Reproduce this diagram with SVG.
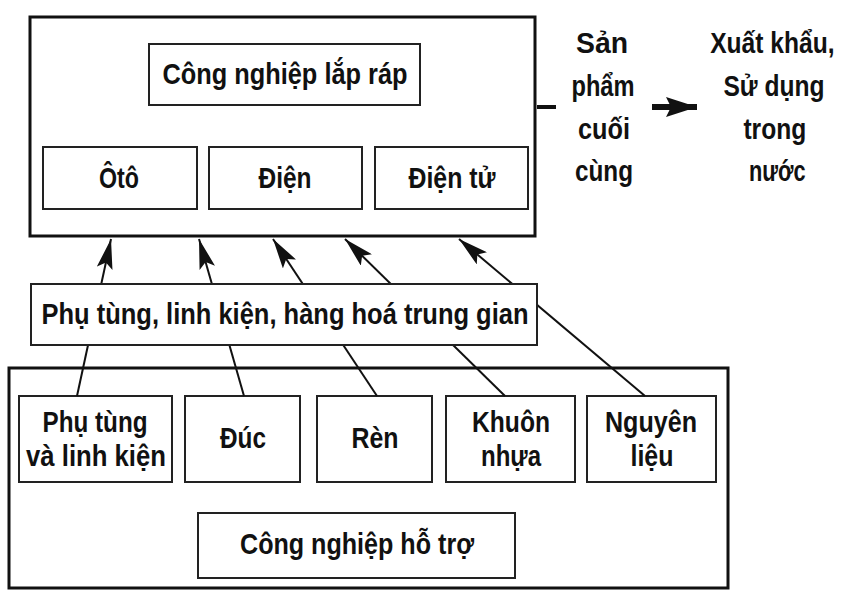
<svg xmlns="http://www.w3.org/2000/svg" width="843" height="597" viewBox="0 0 843 597">
<style>
.outer{fill:#fff;stroke:#111;stroke-width:3}
.box{fill:#fff;stroke:#222;stroke-width:2}
.t{font-family:"Liberation Sans",Arial,sans-serif;font-weight:bold;font-size:30px;fill:#111;text-anchor:middle}
.ln{fill:none;stroke:#111;stroke-width:2}
</style>
<defs>
<marker id="ah" viewBox="0 0 30 16" refX="30" refY="8" markerWidth="30" markerHeight="16" markerUnits="userSpaceOnUse" orient="auto">
<path d="M0,0 L30,8 L0,16 L6,8 Z" fill="#111"/>
</marker>
<marker id="ah2" viewBox="0 0 31 20" refX="31" refY="10" markerWidth="31" markerHeight="20" markerUnits="userSpaceOnUse" orient="auto">
<path d="M0,0 L31,10 L0,20 L5,10 Z" fill="#111"/>
</marker>
</defs>
<rect width="843" height="597" fill="#fff"/>

<g id="cong-nghiep-ho-tro">
<rect class="outer" x="9" y="368" width="719" height="220"/>
</g>
<g id="phu-tung-linh-kien">
<rect class="box" x="19" y="396" width="153" height="86"/>
<text class="t" x="95" y="432" textLength="105" lengthAdjust="spacingAndGlyphs">Phụ tùng</text>
<text class="t" x="96" y="466" textLength="140" lengthAdjust="spacingAndGlyphs">và linh kiện</text>
</g>
<g id="duc">
<rect class="box" x="185" y="396" width="115" height="86"/>
<text class="t" x="243" y="448" textLength="46" lengthAdjust="spacingAndGlyphs">Đúc</text>
</g>
<g id="ren">
<rect class="box" x="317" y="396" width="115" height="86"/>
<text class="t" x="375" y="448" textLength="47" lengthAdjust="spacingAndGlyphs">Rèn</text>
</g>
<g id="khuon-nhua">
<rect class="box" x="446" y="396" width="129" height="86"/>
<text class="t" x="511" y="432" textLength="78" lengthAdjust="spacingAndGlyphs">Khuôn</text>
<text class="t" x="511" y="466" textLength="60" lengthAdjust="spacingAndGlyphs">nhựa</text>
</g>
<g id="nguyen-lieu">
<rect class="box" x="587" y="396" width="129" height="86"/>
<text class="t" x="651" y="432" textLength="92" lengthAdjust="spacingAndGlyphs">Nguyên</text>
<text class="t" x="652" y="466" textLength="43" lengthAdjust="spacingAndGlyphs">liệu</text>
</g>
<g id="cnht-label">
<rect class="box" x="198" y="513" width="317" height="65"/>
<text class="t" x="357" y="554" textLength="234" lengthAdjust="spacingAndGlyphs">Công nghiệp hỗ trợ</text>
</g>

<g id="cong-nghiep-lap-rap">
<rect class="outer" x="30" y="17" width="505" height="219"/>
</g>
<g id="cnlr-label">
<rect class="box" x="149" y="44" width="271" height="61"/>
<text class="t" x="285" y="84" textLength="245" lengthAdjust="spacingAndGlyphs">Công nghiệp lắp ráp</text>
</g>
<g id="oto">
<rect class="box" x="43" y="147" width="154" height="62"/>
<text class="t" x="119" y="188" textLength="40" lengthAdjust="spacingAndGlyphs">Ôtô</text>
</g>
<g id="dien">
<rect class="box" x="209" y="147" width="153" height="62"/>
<text class="t" x="285" y="188" textLength="53" lengthAdjust="spacingAndGlyphs">Điện</text>
</g>
<g id="dien-tu">
<rect class="box" x="375" y="147" width="153" height="62"/>
<text class="t" x="452" y="188" textLength="87" lengthAdjust="spacingAndGlyphs">Điện tử</text>
</g>

<g id="connectors">
<line class="ln" x1="77" y1="396" x2="111" y2="239" marker-end="url(#ah)"/>
<line class="ln" x1="244" y1="396" x2="199" y2="239" marker-end="url(#ah)"/>
<line class="ln" x1="377" y1="396" x2="273" y2="239" marker-end="url(#ah)"/>
<line class="ln" x1="505" y1="396" x2="345" y2="239" marker-end="url(#ah)"/>
<line class="ln" x1="645" y1="396" x2="459" y2="239" marker-end="url(#ah)"/>
<line x1="537" y1="107" x2="556" y2="107" stroke="#111" stroke-width="4"/>
<line x1="652" y1="107" x2="697" y2="107" stroke="#111" stroke-width="6" marker-end="url(#ah2)"/>
</g>

<g id="phu-tung-trung-gian">
<rect class="box" x="31" y="284" width="506" height="61"/>
<text class="t" x="285" y="324" textLength="487" lengthAdjust="spacingAndGlyphs">Phụ tùng, linh kiện, hàng hoá trung gian</text>
</g>

<g id="san-pham-cuoi-cung">
<text class="t" x="602" y="53" textLength="52" lengthAdjust="spacingAndGlyphs">Sản</text>
<text class="t" x="603" y="96" textLength="63" lengthAdjust="spacingAndGlyphs">phẩm</text>
<text class="t" x="604" y="139" textLength="52" lengthAdjust="spacingAndGlyphs">cuối</text>
<text class="t" x="604" y="181" textLength="58" lengthAdjust="spacingAndGlyphs">cùng</text>
</g>
<g id="xuat-khau" transform="translate(774,0) scale(0.82,1)">
<text class="t" x="-2" y="53">Xuất khẩu,</text>
<text class="t" x="0" y="96">Sử dụng</text>
<text class="t" x="1" y="139">trong</text>
<text class="t" x="4" y="181" textLength="69" lengthAdjust="spacingAndGlyphs">nước</text>
</g>
</svg>
